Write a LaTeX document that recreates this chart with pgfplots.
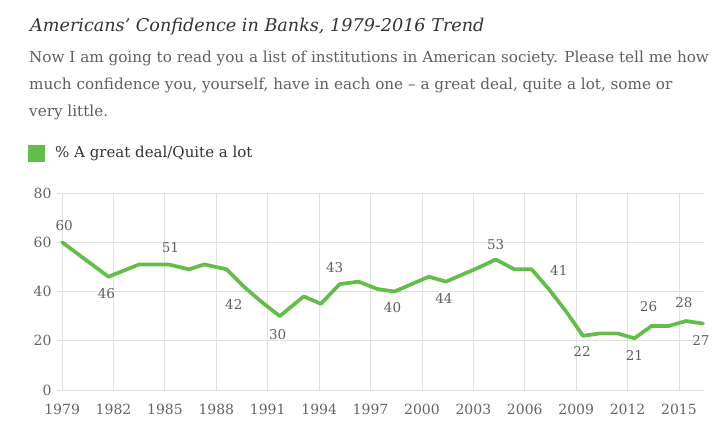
\documentclass[border=0pt]{standalone}
\usepackage{pgfplots}
\pgfplotsset{compat=1.18}
\usepackage{pgfplotstable}
\usepackage{fontspec}
\setmainfont{DejaVu Serif}
\definecolor{gallupgreen}{RGB}{98,190,72}
\definecolor{titlegray}{RGB}{51,51,51}
\definecolor{subgray}{RGB}{95,95,95}
\definecolor{tickgray}{RGB}{100,100,100}
\definecolor{gridgray}{RGB}{224,224,224}

\pgfplotstableread{
x y
1979.0 60
1981.7 46
1983.5 51
1984.6 51
1985.2 51
1986.4 49
1987.3 51
1988.6 49
1989.6 42
1990.6 36
1991.7 30
1993.1 38
1994.1 35
1995.2 43
1996.3 44
1997.4 41
1998.4 40
1999.4 43
2000.4 46
2001.4 44
2002.4 47
2003.4 50
2004.3 53
2005.4 49
2006.4 49
2007.4 41
2008.4 32
2009.4 22
2010.4 23
2011.4 23
2012.4 21
2013.4 26
2014.4 26
2015.4 28
2016.4 27
}\bankdata

\pgfplotstableread{
x y dx dy lab
1979.0 60 2 17 60
1981.7 46 -2 -17 46
1985.2 51 2 17 51
1989.6 42 -10 -18 42
1991.7 30 -2 -18 30
1995.2 43 -5 17 43
1998.4 40 -2 -16 40
2001.4 44 -2 -17 44
2004.3 53 0 15 53
2007.4 41 10 19 41
2009.4 22 -1 -16 22
2012.4 21 0 -17 21
2013.4 26 -3 19 26
2015.4 28 -2 18 28
2016.4 27 -2 -17 27
}\labdata

\begin{document}
\begin{tikzpicture}[x=1pt,y=1pt]
\useasboundingbox (0,0) rectangle (716,425);
% title and subtitle
\node[anchor=base west, inner sep=0pt, text=titlegray, font=\fontsize{17.6}{21}\selectfont\itshape] at (30,393) {Americans' Confidence in Banks, 1979-2016 Trend};
\node[anchor=base west, inner sep=0pt, text=subgray, font=\fontsize{15.2}{18}\selectfont] at (29,362) {Now I am going to read you a list of institutions in American society. Please tell me how};
\node[anchor=base west, inner sep=0pt, text=subgray, font=\fontsize{15.2}{18}\selectfont] at (29,335) {much confidence you, yourself, have in each one -- a great deal, quite a lot, some or};
\node[anchor=base west, inner sep=0pt, text=subgray, font=\fontsize{15.2}{18}\selectfont] at (29,308) {very little.};
% legend
\fill[gallupgreen] (28,263) rectangle (45,280);
\node[anchor=base west, inner sep=0pt, text=titlegray, font=\fontsize{15}{18}\selectfont] at (55,267) {\% A great deal/Quite a lot};

\begin{axis}[
  at={(57pt,35pt)}, anchor=south west,
  scale only axis, width=647pt, height=197pt,
  xmin=1978.7, xmax=2016.46,
  ymin=0, ymax=80,
  xtick={1979,1982,...,2015},
  ytick={0,20,...,80},
  /pgf/number format/assume math mode=true,
  /pgf/number format/1000 sep={},
  axis line style={draw=none},
  major tick length=0pt,
  grid=major,
  major grid style={color=gridgray, line width=0.9pt},
  x tick label style={font=\fontsize{14}{16}\selectfont, text=tickgray, yshift=-11pt},
  y tick label style={font=\fontsize{14}{16}\selectfont, text=tickgray, xshift=-2pt},
  clip=false,
]
\addplot[gallupgreen, line width=3.7pt, line join=round, line cap=round] table[x=x,y=y] {\bankdata};
\addplot[draw=none, mark=none,
  point meta=explicit symbolic,
  visualization depends on={\thisrow{dx} \as \dx},
  visualization depends on={\thisrow{dy} \as \dy},
  nodes near coords,
  every node near coord/.append style={anchor=center, inner sep=0pt, xshift=\dx pt, yshift=\dy pt, text=subgray, font=\fontsize{13.5}{15}\selectfont},
] table[x=x,y=y,meta=lab] {\labdata};
\end{axis}
\end{tikzpicture}
\end{document}
